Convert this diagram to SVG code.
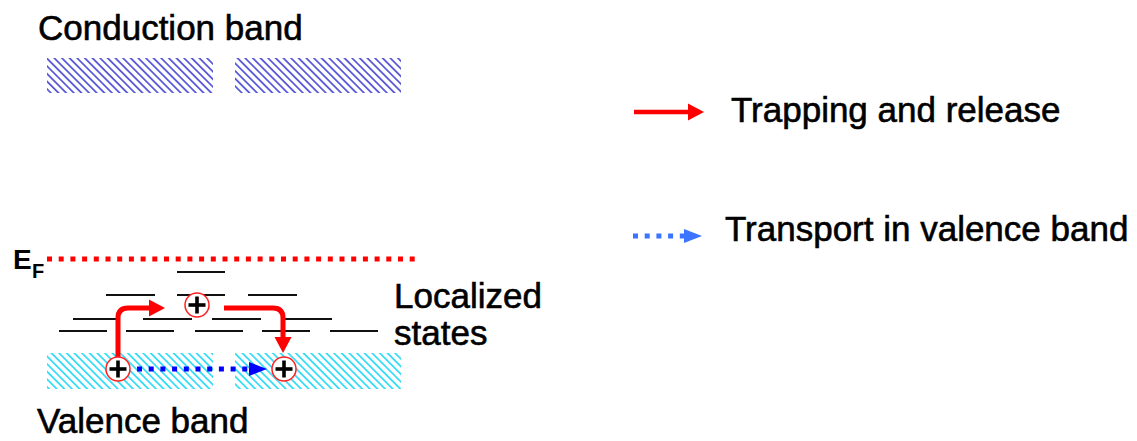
<svg xmlns="http://www.w3.org/2000/svg" width="1137" height="441" viewBox="0 0 1137 441">
  <style>
    .label { font-family: "Liberation Sans", Arial, sans-serif; font-size: 35px; fill: #000; stroke: #000; stroke-width: 0.6px; }
    .level { stroke: #111; stroke-width: 1.8; }
    .trap { fill: none; stroke: #ff0000; stroke-width: 5; }
    .hop { fill: none; stroke: #0000ff; stroke-width: 5; stroke-dasharray: 5 6.7; }
    .hole-ring { fill: #fff; stroke: #ff2020; stroke-width: 1.5; }
    .hole-plus { stroke: #000; stroke-width: 3.6; }
  </style>
  <defs>
    <!-- diagonal hatching for the band edges -->
    <pattern id="hatch-cb" patternUnits="userSpaceOnUse" width="10" height="5.4" patternTransform="rotate(45)">
      <line x1="0" y1="2.7" x2="10" y2="2.7" stroke="#3a3ad0" stroke-width="1.5"/>
    </pattern>
    <pattern id="hatch-vb" patternUnits="userSpaceOnUse" width="10" height="5.4" patternTransform="rotate(45)">
      <line x1="0" y1="2.7" x2="10" y2="2.7" stroke="#10d8f4" stroke-width="1.5"/>
    </pattern>
    <marker id="head-red" markerUnits="userSpaceOnUse" markerWidth="16" markerHeight="17" refX="0" refY="8.5" orient="auto" overflow="visible">
      <path d="M0,0 L16,8.5 L0,17 z" fill="#ff0000"/>
    </marker>
    <marker id="head-blue" markerUnits="userSpaceOnUse" markerWidth="18" markerHeight="14" refX="0" refY="7" orient="auto" overflow="visible">
      <path d="M0,0 L18,7 L0,14 z" fill="#0000ff"/>
    </marker>
    <marker id="head-blue-light" markerUnits="userSpaceOnUse" markerWidth="18" markerHeight="14" refX="0" refY="7" orient="auto" overflow="visible">
      <path d="M0,0 L18,7 L0,14 z" fill="#3a74ff"/>
    </marker>
    <g id="hole">
      <circle r="12" class="hole-ring"/>
      <line x1="-8.5" y1="0" x2="8.5" y2="0" class="hole-plus"/>
      <line x1="0" y1="-8.5" x2="0" y2="8.5" class="hole-plus"/>
    </g>
  </defs>

  <rect width="1137" height="441" fill="#fff"/>

  <g id="conduction-band">
    <text class="label" x="38" y="40">Conduction band</text>
    <rect x="47" y="58" width="166" height="35" fill="url(#hatch-cb)"/>
    <rect x="235" y="58" width="166" height="35" fill="url(#hatch-cb)"/>
  </g>

  <g id="valence-band">
    <rect x="47" y="353" width="166" height="36" fill="url(#hatch-vb)"/>
    <rect x="235" y="353" width="166" height="36" fill="url(#hatch-vb)"/>
    <text class="label" x="37" y="433">Valence band</text>
  </g>

  <g id="fermi-level">
    <text x="13" y="269" font-family="Liberation Sans, Arial, sans-serif" font-weight="bold" font-size="28">E</text>
    <text x="32" y="278" font-family="Liberation Sans, Arial, sans-serif" font-weight="bold" font-size="20">F</text>
    <line x1="47" y1="259" x2="418" y2="259" stroke="#ff0000" stroke-width="5" stroke-dasharray="5 6.7"/>
  </g>

  <g id="localized-states">
    <line class="level" x1="177" y1="272" x2="225" y2="272"/>
    <line class="level" x1="106" y1="295" x2="155" y2="295"/>
    <line class="level" x1="177" y1="295" x2="225" y2="295"/>
    <line class="level" x1="248" y1="295" x2="297" y2="295"/>
    <line class="level" x1="73" y1="319" x2="120" y2="319"/>
    <line class="level" x1="143" y1="319" x2="192" y2="319"/>
    <line class="level" x1="212" y1="319" x2="261" y2="319"/>
    <line class="level" x1="283" y1="319" x2="332" y2="319"/>
    <line class="level" x1="59" y1="331" x2="107" y2="331"/>
    <line class="level" x1="126" y1="331" x2="174" y2="331"/>
    <line class="level" x1="195" y1="331" x2="243" y2="331"/>
    <line class="level" x1="262" y1="331" x2="310" y2="331"/>
    <line class="level" x1="330" y1="331" x2="378" y2="331"/>
    <text class="label" x="394" y="308" font-size="33">Localized</text>
    <text class="label" x="394" y="345" font-size="33">states</text>
  </g>

  <g id="connectors">
    <!-- trapping: band edge up into a localized state -->
    <path class="trap" d="M118,357 L118,318 Q118,308 128,308 L149,308" marker-end="url(#head-red)"/>
    <!-- release: localized state back down to the band edge -->
    <path class="trap" d="M224,308 L273,308 Q283,308 283,318 L283,337" marker-end="url(#head-red)"/>
    <!-- band transport -->
    <path class="hop" d="M137,369 L249,369" marker-end="url(#head-blue)"/>
  </g>

  <g id="holes">
    <use href="#hole" x="197" y="305"/>
    <use href="#hole" x="118" y="369"/>
    <use href="#hole" x="284" y="369"/>
  </g>

  <g id="legend">
    <g id="legend-trapping">
      <line x1="634" y1="112" x2="688" y2="112" stroke="#ff0000" stroke-width="4.5" marker-end="url(#head-red)"/>
      <text class="label" x="731" y="122">Trapping and release</text>
    </g>
    <g id="legend-transport">
      <line x1="633" y1="236" x2="684" y2="236" stroke="#3a74ff" stroke-width="5" stroke-dasharray="5 6.7" marker-end="url(#head-blue-light)"/>
      <text class="label" x="725" y="241">Transport in valence band</text>
    </g>
  </g>
</svg>
